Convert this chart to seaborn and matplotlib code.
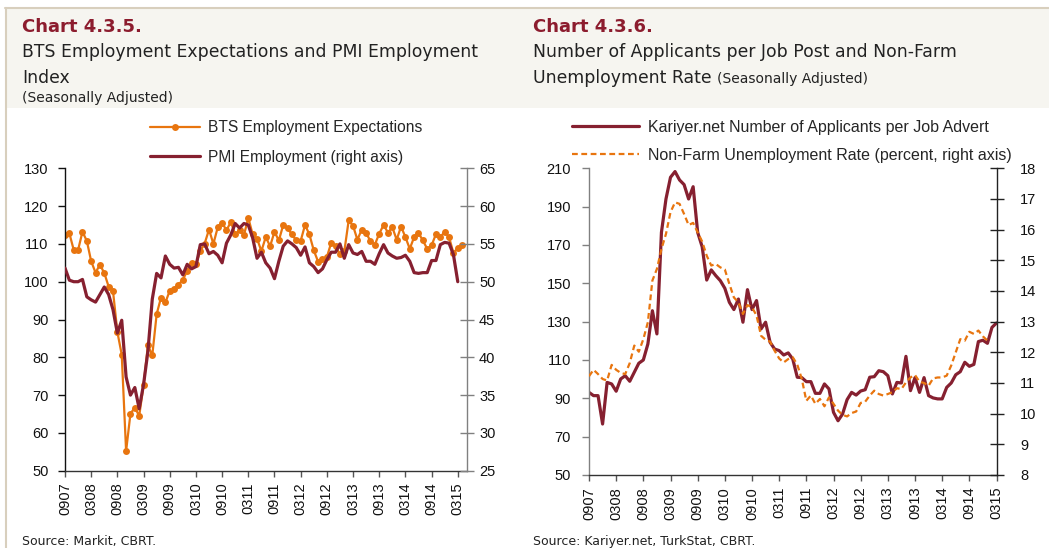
import numpy as np
import pandas as pd
import matplotlib
matplotlib.use("Agg")
import matplotlib.pyplot as plt
import seaborn as sns
from matplotlib.patches import Rectangle
from matplotlib.lines import Line2D

# ---------------- data ----------------
tick_labels = ["0907", "0308", "0908", "0309", "0909", "0310", "0910", "0311",
               "0911", "0312", "0912", "0313", "0913", "0314", "0914", "0315"]

bts = [112.3, 112.8, 108.4, 108.4, 113.2, 110.8, 105.4, 102.4, 104.5, 102.3,
       98.7, 97.5, 86.7, 80.7, 55.2, 65.1, 66.7, 64.5, 72.6, 83.2,
       80.5, 91.4, 95.8, 94.5, 97.6, 98.1, 99.2, 100.5, 102.9, 104.9,
       104.7, 108.1, 110.1, 113.8, 110.0, 114.4, 115.6, 113.6, 115.8, 112.5,
       113.6, 112.3, 116.9, 112.5, 111.4, 108.1, 111.8, 109.4, 113.2, 110.9,
       115.0, 114.1, 112.5, 110.9, 110.8, 115.0, 112.5, 108.3, 105.3, 105.9,
       106.5, 110.3, 109.4, 107.2, 108.0, 116.2, 114.8, 111.1, 113.8, 112.9,
       110.7, 109.8, 112.7, 115.0, 113.0, 114.4, 111.1, 114.6, 111.8, 108.7,
       111.8, 112.9, 110.9, 108.7, 109.6, 112.6, 111.8, 113.2, 111.8, 107.6,
       108.9, 109.6]

pmi = [51.8, 50.2, 50.0, 50.0, 50.3, 48.0, 47.6, 47.3, 48.3, 49.3,
       48.3, 46.3, 43.2, 44.9, 37.4, 35.0, 36.0, 33.2, 36.4, 40.8,
       47.7, 51.1, 50.5, 53.4, 52.3, 51.8, 51.9, 50.9, 52.3, 51.7,
       52.0, 54.9, 55.0, 53.7, 54.0, 53.5, 52.5, 55.1, 56.2, 57.7,
       57.1, 57.7, 57.5, 55.8, 53.1, 53.9, 52.5, 51.8, 50.4, 52.7,
       54.7, 55.4, 55.0, 54.5, 53.5, 54.6, 52.5, 52.0, 51.2, 51.7,
       52.9, 53.9, 53.9, 55.0, 53.1, 54.9, 53.8, 53.6, 54.0, 52.7,
       52.7, 52.3, 53.7, 54.9, 53.8, 53.4, 53.1, 53.2, 53.5, 52.7,
       51.2, 51.1, 51.2, 51.2, 52.8, 52.8, 54.9, 55.2, 55.1, 53.6,
       50.0]

kariyer = [93.1, 91.4, 91.4, 76.6, 98.3, 97.5, 93.7, 100.1, 101.8, 98.9,
           103.6, 108.3, 110.0, 118.3, 135.7, 123.6, 176.6, 194.0, 205.3, 208.3,
           203.9, 201.5, 194.0, 200.4, 176.6, 169.0, 151.7, 157.0, 154.0, 151.4,
           147.4, 140.1, 136.3, 141.8, 129.7, 146.7, 136.3, 141.0, 126.2, 129.7,
           119.2, 115.7, 114.9, 112.6, 113.7, 110.5, 101.0, 100.8, 98.7, 98.7,
           92.6, 92.6, 97.5, 94.9, 82.7, 78.3, 81.8, 89.3, 93.1, 91.7,
           93.8, 94.5, 101.0, 101.3, 104.4, 103.9, 101.8, 92.3, 98.3, 98.0,
           111.9, 94.0, 100.8, 93.1, 100.8, 91.4, 90.2, 89.7, 89.7, 95.7,
           98.0, 102.3, 103.9, 108.8, 106.7, 107.7, 119.6, 120.3, 118.7, 127.0,
           129.3]

unemp = [11.22, 11.43, 11.29, 11.13, 11.08, 11.59, 11.43, 11.33, 11.29, 11.65,
         12.22, 12.02, 12.43, 12.98, 14.34, 14.72, 15.37, 15.86, 16.57, 16.89,
         16.84, 16.51, 16.15, 16.22, 15.91, 15.61, 15.15, 14.83, 14.88, 14.77,
         14.70, 14.23, 13.79, 13.63, 13.25, 13.54, 13.47, 13.20, 12.54, 12.41,
         12.35, 12.05, 11.80, 11.67, 11.78, 11.84, 11.60, 11.13, 10.42, 10.59,
         10.32, 10.48, 10.24, 10.53, 10.32, 10.10, 9.96, 9.91, 10.02, 10.07,
         10.35, 10.39, 10.59, 10.75, 10.64, 10.59, 10.64, 10.70, 10.83, 10.80,
         11.02, 11.18, 11.26, 11.04, 11.00, 10.91, 11.15, 11.18, 11.18, 11.24,
         11.57, 12.00, 12.43, 12.38, 12.67, 12.60, 12.71, 12.52, 12.38]

# ---------------- style ----------------
ORANGE = "#E8750F"
MAROON = "#862030"
TITLE_RED = "#8C1C2E"
BEIGE = "#F6F5F0"
TAN = "#D8CFBD"

sns.set_theme(style="white")
plt.rcParams['font.family'] = ['Liberation Sans', 'DejaVu Sans']
plt.rcParams['axes.linewidth'] = 1.0

W, H = 1049, 548
fig = plt.figure(figsize=(W / 100, H / 100), dpi=100)
fig.patch.set_facecolor("white")

def fx(px):
    return px / W

def fy(py):
    return 1 - py / H

# header band and frame lines
fig.patches.append(Rectangle((fx(5), fy(108)), fx(W - 5), (108 - 8) / H,
                             transform=fig.transFigure, facecolor=BEIGE,
                             edgecolor="none", zorder=0))
fig.lines.append(Line2D([fx(5), 1], [fy(7.5), fy(7.5)], transform=fig.transFigure,
                        color=TAN, lw=1.5))
fig.lines.append(Line2D([fx(5.5), fx(5.5)], [0, fy(7.5)], transform=fig.transFigure,
                        color=TAN, lw=1.5))

TFONT = ['DejaVu Sans']
SUB = 12.4
# titles
fig.text(fx(22), fy(32), "Chart 4.3.5.", color=TITLE_RED, fontsize=13,
         fontweight="bold", family=TFONT, va="baseline")
fig.text(fx(22), fy(57), "BTS Employment Expectations and PMI Employment",
         color="#222222", fontsize=SUB, family=TFONT, va="baseline")
fig.text(fx(22), fy(83), "Index", color="#222222", fontsize=SUB, family=TFONT,
         va="baseline")
fig.text(fx(22), fy(102), "(Seasonally Adjusted)", color="#222222", fontsize=10,
         family=TFONT, va="baseline")

fig.text(fx(533), fy(32), "Chart 4.3.6.", color=TITLE_RED, fontsize=13,
         fontweight="bold", family=TFONT, va="baseline")
fig.text(fx(533), fy(57), "Number of Applicants per Job Post and Non-Farm",
         color="#222222", fontsize=SUB, family=TFONT, va="baseline")
t1 = fig.text(fx(533), fy(83), "Unemployment Rate ", color="#222222", fontsize=SUB,
              family=TFONT, va="baseline")
fig.canvas.draw()
bb = t1.get_window_extent()
fig.text(bb.x1 / W, fy(83), "(Seasonally Adjusted)", color="#222222", fontsize=10,
         family=TFONT, va="baseline")

fig.text(fx(22), fy(545), "Source: Markit, CBRT.", color="#222222", fontsize=9,
         family=TFONT, va="baseline")
fig.text(fx(533), fy(545), "Source: Kariyer.net, TurkStat, CBRT.", color="#222222",
         fontsize=9, family=TFONT, va="baseline")

tick_pos = list(range(0, 91, 6))

# ---------------- left chart ----------------
axL = fig.add_axes([fx(65), fy(470.7), fx(466.5 - 65), (470.7 - 168.3) / H])
dfL = pd.DataFrame({"i": np.arange(len(bts)), "v": bts})
dfP = pd.DataFrame({"i": np.arange(len(pmi)), "v": pmi})
sns.lineplot(data=dfL, x="i", y="v", ax=axL, color=ORANGE, lw=1.6, marker="o",
             markersize=5, markeredgewidth=0, legend=False)
axL.set_xlim(0, 92)
axL.set_ylim(50, 130)
axL.set_yticks(range(50, 131, 10))
axR = axL.twinx()
sns.lineplot(data=dfP, x="i", y="v", ax=axR, color=MAROON, lw=2.3, legend=False)
axR.set_ylim(25, 65)
axR.set_yticks(range(25, 66, 5))
axL.set_xticks(tick_pos)
axL.set_xticklabels(tick_labels, rotation=90)

for a in (axL, axR):
    a.set_xlabel("")
    a.set_ylabel("")
    a.set_facecolor("none")
    for s in a.spines.values():
        s.set_visible(False)
axL.spines["left"].set_visible(True)
axL.spines["left"].set_color("#111111")
axL.spines["bottom"].set_visible(True)
axL.spines["bottom"].set_color("#333333")
axR.spines["right"].set_visible(True)
axR.spines["right"].set_color("#808080")
axL.tick_params(axis="y", direction="out", length=5, width=1, color="#111111",
                pad=7, labelsize=10.5, left=True, labelcolor="#111111")
axL.tick_params(axis="x", direction="out", length=4, width=1, color="#555555",
                pad=4.5, labelsize=10.5, bottom=True, labelcolor="#111111")
axR.tick_params(axis="y", direction="inout", length=10, width=1, color="#808080",
                pad=4, labelsize=10.5, right=True, labelcolor="#111111")

hL = [Line2D([], [], color=ORANGE, lw=1.6, marker="o", markersize=5,
             markeredgewidth=0),
      Line2D([], [], color=MAROON, lw=2.3)]
fig.legend(hL, ["BTS Employment Expectations", "PMI Employment (right axis)"],
           loc="upper left", bbox_to_anchor=(fx(150), fy(120)),
           frameon=False, fontsize=11.2, handlelength=3.2, handletextpad=0.55,
           labelspacing=0.95, borderpad=0, borderaxespad=0)

# ---------------- right chart ----------------
axL2 = fig.add_axes([fx(589), fy(475), fx(996.5 - 589), (475 - 168.3) / H])
dfK = pd.DataFrame({"i": np.arange(len(kariyer)), "v": kariyer})
dfU = pd.DataFrame({"i": np.arange(len(unemp)), "v": unemp})
sns.lineplot(data=dfK, x="i", y="v", ax=axL2, color=MAROON, lw=2.3, legend=False)
axL2.set_xlim(0, 90)
axL2.set_ylim(50, 210)
axL2.set_yticks(range(50, 211, 20))
axR2 = axL2.twinx()
sns.lineplot(data=dfU, x="i", y="v", ax=axR2, color=ORANGE, lw=1.6,
             linestyle=(0, (2.6, 1.6)), legend=False)
axR2.set_ylim(8, 18)
axR2.set_yticks(range(8, 19, 1))
axL2.set_xticks(tick_pos)
axL2.set_xticklabels(tick_labels, rotation=90)

for a in (axL2, axR2):
    a.set_xlabel("")
    a.set_ylabel("")
    a.set_facecolor("none")
    for s in a.spines.values():
        s.set_visible(False)
axL2.spines["left"].set_visible(True)
axL2.spines["left"].set_color("#808080")
axL2.spines["bottom"].set_visible(True)
axL2.spines["bottom"].set_color("#333333")
axR2.spines["right"].set_visible(True)
axR2.spines["right"].set_color("#222222")
axL2.tick_params(axis="y", direction="out", length=5, width=1, color="#808080",
                 pad=8, labelsize=10.5, left=True, labelcolor="#111111")
axL2.tick_params(axis="x", direction="out", length=4, width=1, color="#555555",
                 pad=4.5, labelsize=10.5, bottom=True, labelcolor="#111111")
axR2.tick_params(axis="y", direction="inout", length=10, width=1, color="#222222",
                 pad=12, labelsize=10.5, right=True, labelcolor="#111111")

hR = [Line2D([], [], color=MAROON, lw=2.3),
      Line2D([], [], color=ORANGE, lw=1.6, linestyle=(0, (2.6, 1.6)))]
fig.legend(hR, ["Kariyer.net Number of Applicants per Job Advert",
                "Non-Farm Unemployment Rate (percent, right axis)"],
           loc="upper left", bbox_to_anchor=(fx(572), fy(120)),
           frameon=False, fontsize=11.5, handlelength=4.2, handletextpad=0.55,
           labelspacing=0.8, borderpad=0, borderaxespad=0)

fig.savefig("out.png", dpi=100, facecolor="white")
